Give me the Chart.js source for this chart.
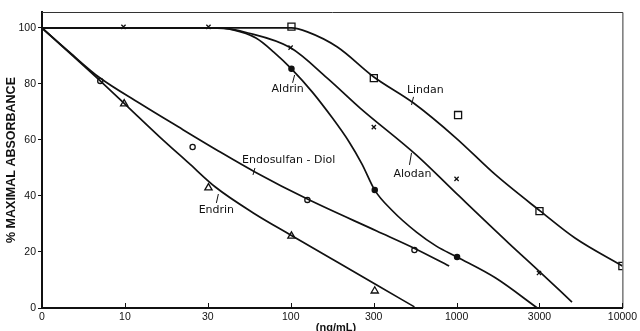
<!DOCTYPE html>
<html><head><meta charset="utf-8">
<script src="https://cdn.jsdelivr.net/npm/chart.js@4/dist/chart.umd.min.js"></script>
<style>html,body{margin:0;padding:0;background:#fff}</style>
</head><body>
<canvas id="c" width="640" height="331"></canvas>
<script>
// ---- axis ticks ----
const xTickValues = [3.162, 10, 31.62, 100, 316.2, 1000, 3162, 10000];
const xTickLabels = ["0", "10", "30", "100", "300", "1000", "3000", "10000"];
const yTickValues = [0, 20, 40, 60, 80, 100];

// ---- fitted curves ----
const lindanCurveX = [3.16, 42, 73, 101, 126, 191, 317, 550, 993, 1722, 3200, 5176, 10000];
const lindanCurveY = [100, 100, 100, 100, 98.6, 93.2, 82.5, 73.2, 60.7, 47.5, 34.6, 25, 15];

const alodanCurveX = [3.16, 36.6, 55.3, 99.8, 166, 262, 573, 1035, 2059, 3140, 4966];
const alodanCurveY = [100, 100, 98.2, 92.9, 82.1, 71.4, 54.6, 40, 23.2, 13.2, 2.1];

const aldrinCurveX = [3.16, 33.2, 45.0, 61.7, 79.0, 101, 135, 178, 225, 269, 321, 406, 573, 755, 1007, 1722, 3069];
const aldrinCurveY = [100, 100, 99.3, 96.4, 91.4, 85.4, 77.1, 67.9, 59.3, 51.4, 42.1, 35, 27.1, 22.1, 18.2, 10.7, 0];

const endosulfanCurveX = [3.16, 4.65, 7.02, 12.2, 21.1, 36.6, 60.8, 126, 330, 567, 902];
const endosulfanCurveY = [100, 91.25, 82.3, 73.2, 64.6, 56.1, 48.6, 38.9, 27.5, 21.1, 15];

const endrinCurveX = [3.16, 7.02, 10.6, 16.0, 24.2, 35.1, 60.8, 99.8, 190.6, 330, 557];
const endrinCurveY = [100, 81.4, 71.4, 61.4, 51.8, 43.2, 33.6, 26.1, 16.4, 8.2, 0.4];

// ---- measured points (markers) ----
const lindanMarkX = [101, 317, 1021, 3162, 10000];
const lindanMarkY = [100.5, 82.1, 68.9, 34.6, 15];
const alodanMarkX = [9.8, 31.9, 99.8, 317, 1000, 3140];
const alodanMarkY = [100.4, 100.4, 93, 64.6, 46.1, 12.5];
const aldrinMarkX = [101, 321, 1007];
const aldrinMarkY = [85.4, 42.1, 18.2];
const endosulfanMarkX = [7.1, 25.6, 126, 557];
const endosulfanMarkY = [81.1, 57.5, 38.6, 20.7];
const endrinMarkX = [9.9, 31.9, 101, 321];
const endrinMarkY = [72.9, 42.9, 25.7, 6.1];

// ---- curve labels (data coordinates) ----
const curveLabels = [
  {text: "Aldrin", x: 95.8, y: 78.2, from: [102.6, 80.4], to: [105.5, 83.2]},
  {text: "Lindan", x: 648, y: 77.9, from: [550, 75.4], to: [535, 72.5]},
  {text: "Alodan", x: 542, y: 47.9, from: [520, 51.1], to: [535, 55.4]},
  {text: "Endosulfan - Diol", x: 97.1, y: 52.9, from: [60.8, 50.0], to: [59.2, 47.5]},
  {text: "Endrin", x: 35.6, y: 35.0, from: [35.6, 37.5], to: [36.6, 40.7]}
];

const zip = (xs, ys) => xs.map((x, i) => ({x: x, y: ys[i]}));
const INK = '#111';

function curve(xs, ys) {
  return {data: zip(xs, ys), showLine: true, pointRadius: 0, borderColor: INK,
          borderWidth: 1.7, cubicInterpolationMode: 'monotone', fill: false};
}
function marks(xs, ys, style, r, filled) {
  return {data: zip(xs, ys), showLine: false, pointStyle: style, pointRadius: r,
          pointBorderColor: INK, pointBorderWidth: 1.3,
          pointBackgroundColor: filled ? INK : '#fff'};
}

const framePlugin = {
  id: 'frame',
  afterDraw(chart) {
    const ctx = chart.ctx, a = chart.chartArea;
    const xs = chart.scales.x, ys = chart.scales.y;
    ctx.save();
    ctx.strokeStyle = '#333'; ctx.lineWidth = 1;
    ctx.beginPath();
    ctx.moveTo(a.left, a.top + 0.5); ctx.lineTo(a.right + 0.5, a.top + 0.5);
    ctx.lineTo(a.right + 0.5, a.bottom);
    ctx.stroke();
    ctx.strokeStyle = INK; ctx.lineWidth = 1;
    xTickValues.forEach(v => {
      const p = Math.round(xs.getPixelForValue(v)) + 0.5;
      ctx.beginPath(); ctx.moveTo(p, a.bottom); ctx.lineTo(p, a.bottom - 5); ctx.stroke();
    });
    ctx.fillStyle = INK;
    ctx.font = '11px "DejaVu Sans"';
    ctx.textAlign = 'center'; ctx.textBaseline = 'middle';
    curveLabels.forEach(l => {
      ctx.fillText(l.text, xs.getPixelForValue(l.x), ys.getPixelForValue(l.y));
      ctx.beginPath();
      ctx.lineWidth = 1;
      ctx.moveTo(xs.getPixelForValue(l.from[0]), ys.getPixelForValue(l.from[1]));
      ctx.lineTo(xs.getPixelForValue(l.to[0]), ys.getPixelForValue(l.to[1]));
      ctx.stroke();
    });
    ctx.font = 'bold 12.5px "Liberation Sans"';
    ctx.save();
    ctx.translate(12, (a.top + a.bottom) / 2);
    ctx.rotate(-Math.PI / 2);
    ctx.fillText('% MAXIMAL ABSORBANCE', 0, 0);
    ctx.restore();
    ctx.font = 'bold 11px "Liberation Sans"';
    ctx.fillText('(ng/mL)', 336, 328);
    ctx.restore();
  }
};

new Chart(document.getElementById('c'), {
  type: 'scatter',
  data: {
    datasets: [
      curve(lindanCurveX, lindanCurveY),
      curve(alodanCurveX, alodanCurveY),
      curve(aldrinCurveX, aldrinCurveY),
      curve(endosulfanCurveX, endosulfanCurveY),
      curve(endrinCurveX, endrinCurveY),
      marks(lindanMarkX, lindanMarkY, 'rect', 5, false),
      marks(alodanMarkX, alodanMarkY, 'crossRot', 3, false),
      marks(aldrinMarkX, aldrinMarkY, 'circle', 2.6, true),
      marks(endosulfanMarkX, endosulfanMarkY, 'circle', 2.6, false),
      marks(endrinMarkX, endrinMarkY, 'triangle', 4.2, false)
    ]
  },
  options: {
    responsive: false,
    animation: false,
    devicePixelRatio: 1,
    layout: {padding: {left: 0, right: 12, top: 12, bottom: 0}},
    plugins: {legend: {display: false}, tooltip: {enabled: false}},
    scales: {
      x: {
        type: 'logarithmic', min: xTickValues[0], max: 10000,
        afterBuildTicks: s => { s.ticks = xTickValues.map(v => ({value: v})); },
        afterFit: s => { s.height = 23; },
        ticks: {callback: (v, i) => xTickLabels[i], autoSkip: false, maxRotation: 0,
                color: INK, padding: 3, font: {family: 'Liberation Sans', size: 10.5}},
        grid: {display: false, drawTicks: false},
        border: {display: true, color: INK, width: 2}
      },
      y: {
        min: 0, max: 105.7,
        afterBuildTicks: s => { s.ticks = yTickValues.map(v => ({value: v})); },
        afterFit: s => { s.width = 42; },
        ticks: {color: INK, padding: 2, font: {family: 'Liberation Sans', size: 10.5}},
        grid: {display: true, drawOnChartArea: false, drawTicks: true, tickLength: 4, color: INK},
        border: {display: true, color: INK, width: 2}
      }
    }
  },
  plugins: [framePlugin]
});
</script>
</body></html>
